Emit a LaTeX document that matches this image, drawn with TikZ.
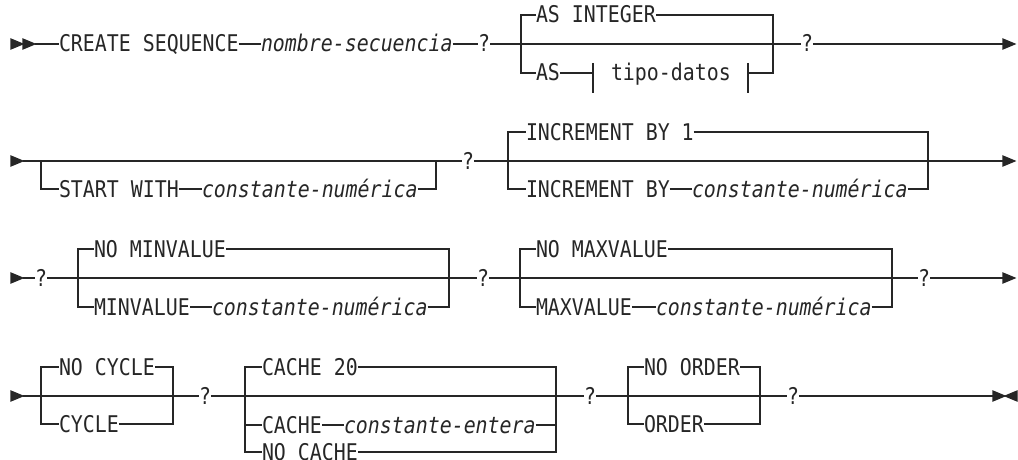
\documentclass[tikz,border=0pt]{standalone}
\usepackage{fontspec}
\newfontfamily\rr{DejaVu Sans Mono}[FakeStretch=0.865]
\begin{document}
\begin{tikzpicture}[x=1pt,y=-1pt,
  kw/.style={font=\rr\fontsize{23}{26}\selectfont,text=black!85,inner sep=0pt,outer sep=0pt,
     text height=16.6pt,text depth=0.6pt,anchor=west},
  var/.style={kw,font=\rr\itshape\fontsize{23}{26}\selectfont},
  tip/.style={fill=black!85}]
\useasboundingbox (0,0) rectangle (1018,460);
\tikzset{every path/.append style={line width=1.1pt,draw=black!85}}

% ---------- row 1 ----------
\coordinate (s1) at (35,44);
\coordinate (e1) at (1003,44);
\coordinate (b1a) at (521,44);
\coordinate (b1b) at (773,44);
\coordinate (tk1) at (593,73);
\coordinate (tk2) at (748,73);
\node[kw]  (create) at (59,44) {CREATE SEQUENCE};
\node[var] (nombre) at (261,44) {nombre-secuencia};
\node[kw]  (q1) at (478,44) {?};
\node[kw]  (asint) at (536,15) {AS INTEGER};
\node[kw]  (as) at (536,73) {AS};
\node[kw]  (tipo) at (611,73) {tipo-datos};
\node[kw]  (q2) at (801,44) {?};
\fill[tip] (11,39) -- (23,44) -- (11,49) -- cycle;
\fill[tip] (23,39) -- (35,44) -- (23,49) -- cycle;
\draw (s1) -- (create.west);
\draw (create.east) -- (nombre.west);
\draw (nombre.east) -- (q1.west);
\draw (q1.east) -- (q2.west);
\draw (b1a) |- (asint.west);
\draw (b1a) |- (as.west);
\draw (asint.east) -| (b1b);
\draw (as.east) -- (tk1);
\draw ([yshift=10pt]tk1) -- ([yshift=-20pt]tk1);
\draw ([yshift=10pt]tk2) -- ([yshift=-20pt]tk2);
\draw (tk2) -| (b1b);
\draw (q2.east) -- (e1);
\fill[tip] (1003,39) -- (1015,44) -- (1003,49) -- cycle;

% ---------- row 2 ----------
\coordinate (s2) at (23,161);
\coordinate (e2) at (1003,161);
\coordinate (b2a) at (41,161);
\coordinate (b2b) at (436,161);
\coordinate (b3a) at (508,161);
\coordinate (b3b) at (928,161);
\node[kw]  (start) at (59,189) {START WITH};
\node[var] (cn1) at (202,189) {constante-numérica};
\node[kw]  (q3) at (462,161) {?};
\node[kw]  (inc1) at (526,132) {INCREMENT BY 1};
\node[kw]  (inc2) at (526,189) {INCREMENT BY};
\node[var] (cn2) at (692,189) {constante-numérica};
\fill[tip] (11,156) -- (23,161) -- (11,166) -- cycle;
\draw (s2) -- (q3.west);
\draw (b2a) |- (start.west);
\draw (start.east) -- (cn1.west);
\draw (cn1.east) -| (b2b);
\draw (q3.east) -- (e2);
\draw (b3a) |- (inc1.west);
\draw (b3a) |- (inc2.west);
\draw (inc2.east) -- (cn2.west);
\draw (inc1.east) -| (b3b);
\draw (cn2.east) -| (b3b);
\fill[tip] (1003,156) -- (1015,161) -- (1003,166) -- cycle;

% ---------- row 3 ----------
\coordinate (s3) at (23,278);
\coordinate (e3) at (1003,278);
\coordinate (b4a) at (78,278);
\coordinate (b4b) at (449,278);
\coordinate (b5a) at (520,278);
\coordinate (b5b) at (892,278);
\node[kw]  (q4) at (35,278) {?};
\node[kw]  (nomin) at (94,249) {NO MINVALUE};
\node[kw]  (minv) at (94,307) {MINVALUE};
\node[var] (cn3) at (212,307) {constante-numérica};
\node[kw]  (q5) at (477,278) {?};
\node[kw]  (nomax) at (536,249) {NO MAXVALUE};
\node[kw]  (maxv) at (536,307) {MAXVALUE};
\node[var] (cn4) at (656,307) {constante-numérica};
\node[kw]  (q6) at (918,278) {?};
\fill[tip] (11,273) -- (23,278) -- (11,283) -- cycle;
\draw (s3) -- (q4.west);
\draw (q4.east) -- (q5.west);
\draw (b4a) |- (nomin.west);
\draw (b4a) |- (minv.west);
\draw (minv.east) -- (cn3.west);
\draw (nomin.east) -| (b4b);
\draw (cn3.east) -| (b4b);
\draw (q5.east) -- (q6.west);
\draw (b5a) |- (nomax.west);
\draw (b5a) |- (maxv.west);
\draw (maxv.east) -- (cn4.west);
\draw (nomax.east) -| (b5b);
\draw (cn4.east) -| (b5b);
\draw (q6.east) -- (e3);
\fill[tip] (1003,273) -- (1015,278) -- (1003,283) -- cycle;

% ---------- row 4 ----------
\coordinate (s4) at (23,396);
\coordinate (e4) at (993,396);
\coordinate (b6a) at (41,396);
\coordinate (b6b) at (173,396);
\coordinate (b7a) at (245,396);
\coordinate (b7b) at (556,396);
\coordinate (b8a) at (628,396);
\coordinate (b8b) at (760,396);
\node[kw]  (nocyc) at (59,367) {NO CYCLE};
\node[kw]  (cyc) at (59,424) {CYCLE};
\node[kw]  (q7) at (199,396) {?};
\node[kw]  (c20) at (262,367) {CACHE 20};
\node[kw]  (cache) at (262,425) {CACHE};
\node[var] (ce) at (344,425) {constante-entera};
\node[kw]  (nocache) at (262,452) {NO CACHE};
\node[kw]  (q8) at (584,396) {?};
\node[kw]  (noord) at (644,367) {NO ORDER};
\node[kw]  (ord) at (644,424) {ORDER};
\node[kw]  (q9) at (787,396) {?};
\fill[tip] (11,391) -- (23,396) -- (11,401) -- cycle;
\draw (s4) -- (q7.west);
\draw (b6a) |- (nocyc.west);
\draw (b6a) |- (cyc.west);
\draw (nocyc.east) -| (b6b);
\draw (cyc.east) -| (b6b);
\draw (q7.east) -- (q8.west);
\draw (b7a) |- (c20.west);
\draw (b7a) |- (cache.west);
\draw (b7a) |- (nocache.west);
\draw (cache.east) -- (ce.west);
\draw (c20.east) -| (b7b);
\draw (ce.east) -| (b7b);
\draw (nocache.east) -| (b7b);
\draw (q8.east) -- (q9.west);
\draw (b8a) |- (noord.west);
\draw (b8a) |- (ord.west);
\draw (noord.east) -| (b8b);
\draw (ord.east) -| (b8b);
\draw (q9.east) -- (e4);
\fill[tip] (993,391) -- (1005,396) -- (993,401) -- cycle;
\fill[tip] (1017,391) -- (1005,396) -- (1017,401) -- cycle;
\end{tikzpicture}
\end{document}
